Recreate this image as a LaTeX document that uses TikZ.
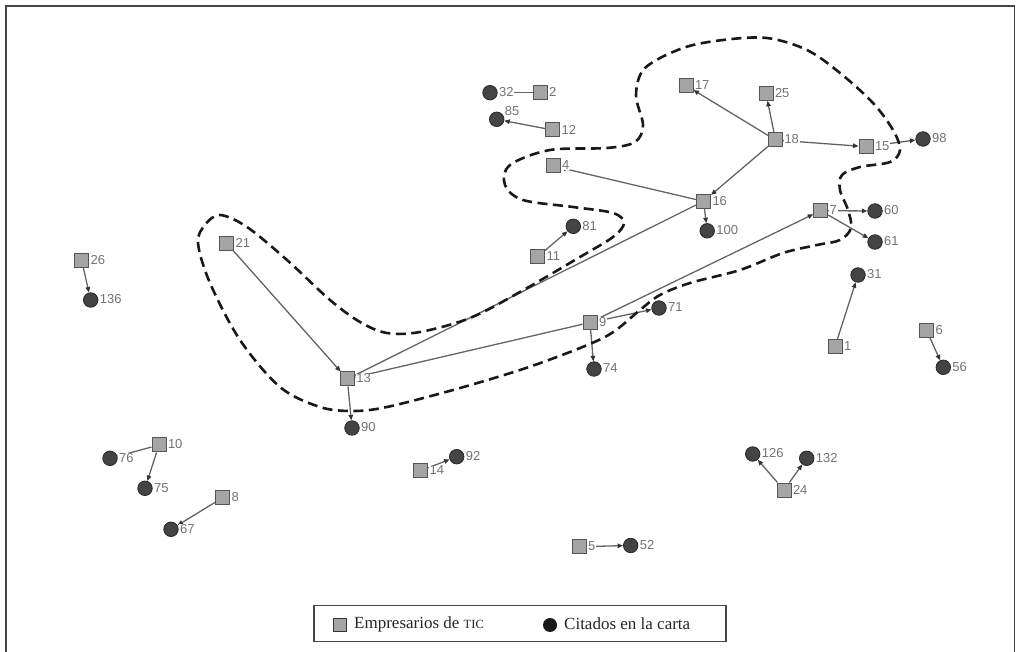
\documentclass[tikz,border=0pt]{standalone}
\usepackage{fontspec}
\setmainfont{Liberation Serif}
\newfontfamily\labfam{Liberation Sans}
\usetikzlibrary{arrows.meta}
\pgfdeclarelayer{edges}
\pgfsetlayers{edges,main}
\definecolor{sqfill}{RGB}{165,165,165}
\definecolor{sqborder}{RGB}{85,85,85}
\definecolor{cifill}{RGB}{68,68,68}
\definecolor{ciborder}{RGB}{40,40,40}
\definecolor{labgray}{RGB}{115,115,115}
\definecolor{edgegray}{RGB}{100,100,100}
\definecolor{framegray}{RGB}{70,70,70}
\newcommand\sqn[3]{\node[sq,label={[lab]right:#3}] (n#3) at (#1,#2) {};}
\newcommand\cin[3]{\node[ci,label={[lab]right:#3}] (n#3) at (#1,#2) {};}
\begin{document}
\begin{tikzpicture}[x=1pt,y=-1pt,
  sq/.style={draw=sqborder, fill=sqfill, minimum size=14pt, inner sep=0pt, line width=1pt},
  ci/.style={circle, draw=ciborder, fill=cifill, minimum size=14.5pt, inner sep=0pt, line width=0.8pt},
  lab/.style={font=\labfam\fontsize{13}{15}\selectfont, text=labgray, fill=white, inner xsep=0.8pt, inner ysep=0pt, label distance=0.5pt, yshift=0.5pt},
  edge/.style={draw=edgegray, line width=1.3pt},
  arr/.style={edge, -{Stealth[length=5.5pt,width=4.5pt,inset=0pt,color=black!80]}},
  dashcurve/.style={draw=black!90, line width=2.6pt, dash pattern=on 10pt off 5.5pt},
  legtext/.style={font=\fontsize{17}{20}\selectfont, anchor=west, inner sep=0pt, text=black!85}
]
\useasboundingbox (0,0) rectangle (1021,652);
\clip (0,0) rectangle (1021,652);
\draw[line width=1.5pt, draw=framegray] (6,680) -- (6,6) -- (1014.5,6) -- (1014.5,680);

% squares (Empresarios de TIC)
\sqn{540}{92.7}{2}
\sqn{552.7}{130}{12}
\sqn{553}{166}{4}
\sqn{686}{85.5}{17}
\sqn{766}{93.3}{25}
\sqn{775.5}{140}{18}
\sqn{866}{146.7}{15}
\sqn{703.5}{201.3}{16}
\sqn{820.7}{210.7}{7}
\sqn{537.5}{257}{11}
\sqn{226.7}{243.3}{21}
\sqn{81.7}{260.7}{26}
\sqn{590}{322.5}{9}
\sqn{347.3}{379}{13}
\sqn{835}{346.7}{1}
\sqn{926.7}{330.7}{6}
\sqn{159}{445}{10}
\sqn{222.7}{497.7}{8}
\sqn{420.7}{470.7}{14}
\sqn{784}{490}{24}
\sqn{579}{546.7}{5}

% circles (Citados en la carta)
\cin{490}{92.7}{32}
\node[ci,label={[lab,label distance=0pt]20:85}] (n85) at (496.7,119.3) {};
\cin{923}{139}{98}
\cin{875}{211}{60}
\cin{875}{242}{61}
\cin{707.2}{230.8}{100}
\cin{573.3}{226.3}{81}
\cin{858}{275}{31}
\cin{90.7}{300}{136}
\cin{659}{308}{71}
\cin{594}{369}{74}
\cin{352}{428}{90}
\cin{943.3}{367.3}{56}
\cin{110}{458.3}{76}
\cin{145}{488.3}{75}
\cin{171}{529.3}{67}
\cin{456.7}{456.7}{92}
\cin{752.7}{454}{126}
\cin{806.7}{458.3}{132}
\cin{630.7}{545.5}{52}

% connectors (behind nodes and labels)
\begin{pgfonlayer}{edges}
\draw[edge] (n2) -- (n32);
\draw[arr] (n12) -- (n85);
\draw[arr] (n16) -- (n4);
\draw[arr] (n18) -- (n17);
\draw[arr] (n18) -- (n25);
\draw[arr] (n18) -- (n15);
\draw[arr] (n15) -- (n98);
\draw[arr] (n18) -- (n16);
\draw[arr] (n16) -- (n100);
\draw[edge] (n13) -- (n16);
\draw[arr] (n9) -- (n13);
\draw[arr] (n9) -- (n7);
\draw[arr] (n9) -- (n71);
\draw[arr] (n9) -- (n74);
\draw[arr] (n13) -- (n90);
\draw[arr] (n21) -- (n13);
\draw[arr] (n7) -- (n60);
\draw[arr] (n7) -- (n61);
\draw[arr] (n11) -- (n81);
\draw[arr] (n26) -- (n136);
\draw[arr] (n1) -- (n31);
\draw[arr] (n6) -- (n56);
\draw[edge] (n10) -- (n76);
\draw[arr] (n10) -- (n75);
\draw[arr] (n8) -- (n67);
\draw[arr] (n14) -- (n92);
\draw[arr] (n24) -- (n126);
\draw[arr] (n24) -- (n132);
\draw[arr] (n5) -- (n52);
\end{pgfonlayer}

% dashed group outline
\draw[dashcurve] plot[smooth cycle, tension=0.55] coordinates {
 (220,215) (247,227) (287,260) (330,300) (360,322) (387,333) (420,332)
 (470,318) (520,292) (580,257) (613,237) (624,223) (613,213) (573,207)
 (523,200) (505,185) (510,165) (550,150) (607,148) (635,142) (643,125)
 (636,95) (645,68) (683,48) (723,40) (767,38) (807,50) (840,73) (873,103)
 (893,130) (900,150) (890,162) (860,167) (842,175) (840,190) (848,210)
 (851,228) (840,240) (817,245) (783,253) (740,270) (690,283) (660,295)
 (640,310) (620,327) (603,338) (570,352) (520,370) (453,390) (387,407)
 (353,411) (320,407) (280,387) (240,340) (210,283) (198,243) (205,225)};

% legend
\node[draw=framegray, line width=1.2pt, minimum width=412pt, minimum height=36pt, inner sep=0pt] (legend) at (520,623.5) {};
\node[draw=black!80, fill=sqfill, minimum size=13pt, inner sep=0pt, line width=0.9pt] (legsq) at (340,625) {};
\node[legtext] (legsqt) at (354,624) {Empresarios de {\fontsize{12.5}{14}\selectfont TIC}};
\node[circle, fill=black!90, minimum size=14pt, inner sep=0pt] (legci) at (550,625) {};
\node[legtext] (legcit) at (564,624) {Citados en la carta};
\end{tikzpicture}
\end{document}
